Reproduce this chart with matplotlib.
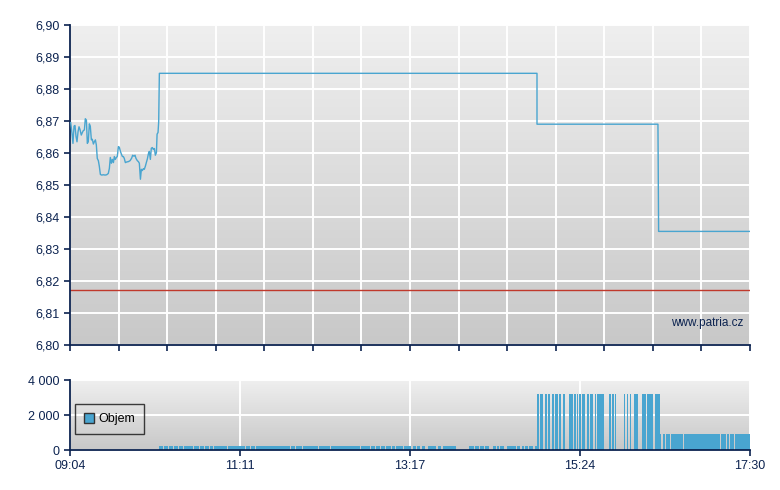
import numpy as np
import matplotlib.pyplot as plt
from matplotlib.colors import LinearSegmentedColormap
from matplotlib.patches import Patch
from matplotlib.ticker import FuncFormatter

plt.rcParams["font.family"] = ["Liberation Sans", "DejaVu Sans"]

# minutes after 09:04 and price
price_t = [0.5, 1.5, 2.2, 3.0, 3.7, 4.5, 5.2, 6.0, 6.7, 7.4, 8.4, 9.2, 9.9, 10.7,
           11.4, 12.2, 12.9, 13.6, 14.4, 15.1, 15.9, 16.6, 17.4, 18.1, 18.9, 19.6,
           20.3, 21.1, 21.8, 22.6, 23.6, 24.8, 26.1, 27.3, 28.5, 29.3, 30.0, 30.8,
           31.5, 32.3, 33.0, 33.7, 34.5, 35.2, 36.0, 36.7, 37.5, 38.2, 39.0, 39.7,
           40.4, 41.2, 42.2, 43.4, 44.7, 45.9, 46.6, 47.6, 48.4, 49.1, 50.1, 50.9,
           51.6, 52.4, 53.1, 53.8, 54.6, 55.3, 56.1, 56.8, 57.6, 58.3, 59.0, 59.8,
           60.5, 61.3, 62.0, 62.8, 63.5, 64.3, 64.8, 65.5, 66.0, 66.5,
           347.5, 347.5, 437.5, 438.0, 506.0]
price_v = [6.8695, 6.8661, 6.8630, 6.8684, 6.8686, 6.8651, 6.8635, 6.8667, 6.8682,
           6.8674, 6.8656, 6.8664, 6.8670, 6.8672, 6.8707, 6.8703, 6.8630, 6.8635,
           6.8691, 6.8684, 6.8641, 6.8643, 6.8628, 6.8635, 6.8641, 6.8625, 6.8583,
           6.8576, 6.8559, 6.8533, 6.8531, 6.8532, 6.8531, 6.8532, 6.8536, 6.8552,
           6.8586, 6.8568, 6.8580, 6.8570, 6.8589, 6.8580, 6.8586, 6.8589, 6.8620,
           6.8618, 6.8605, 6.8597, 6.8589, 6.8589, 6.8583, 6.8570, 6.8572, 6.8573,
           6.8576, 6.8584, 6.8593, 6.8590, 6.8593, 6.8583, 6.8576, 6.8573, 6.8568,
           6.8518, 6.8549, 6.8545, 6.8551, 6.8549, 6.8559, 6.8570, 6.8582, 6.8597,
           6.8605, 6.8580, 6.8615, 6.8617, 6.8611, 6.8614, 6.8593, 6.8601, 6.8659,
           6.8664, 6.8698, 6.8849,
           6.8849, 6.8690, 6.8690, 6.8355, 6.8355]
prev_close = 6.8173

# volume blocks: (start minute, end minute)
low_blocks = [(66.2, 69.2), (69.9, 72.9), (73.7, 76.6), (77.4, 80.4), (81.1, 84.1),
              (84.8, 86.7), (87.4, 91.2), (91.9, 96.0), (96.7, 99.7), (100.5, 103.4),
              (104.2, 106.4), (107.2, 109.8), (110.5, 113.5), (114.2, 116.8),
              (117.6, 130.2), (131.0, 133.9), (134.7, 137.7), (138.4, 160.4),
              (161.1, 163.7), (164.4, 167.4), (168.2, 169.3), (170.0, 172.6),
              (173.4, 176.0), (176.7, 184.5), (185.3, 193.5), (194.2, 213.2),
              (213.9, 215.8), (216.5, 219.9), (220.6, 223.2), (224.0, 226.9),
              (227.7, 230.7), (231.4, 234.4), (235.1, 238.9), (239.6, 241.8),
              (242.6, 247.8), (248.5, 250.4), (251.1, 254.1), (254.9, 257.5),
              (258.2, 260.8), (261.6, 264.2), (266.4, 269.0), (269.7, 272.7),
              (273.5, 276.4), (277.2, 280.2), (280.9, 283.9), (284.6, 287.2),
              (296.9, 300.6), (301.4, 304.3), (305.1, 308.1), (308.8, 311.8),
              (314.8, 317.0), (317.7, 319.2), (320.0, 322.9), (325.2, 331.9),
              (332.6, 335.2), (336.0, 337.8), (338.6, 340.8), (341.5, 344.5),
              (346.0, 347.5)]
high_blocks = [(347.5, 348.8), (349.7, 352.2), (353.2, 354.7), (355.7, 357.4),
               (358.4, 360.1), (361.1, 362.9), (363.9, 365.6), (366.6, 368.1),
               (371.3, 374.1), (375.3, 376.3), (377.0, 378.2), (379.0, 380.2),
               (381.2, 383.4), (384.5, 386.0), (386.9, 389.4), (390.4, 391.4),
               (391.9, 395.6), (396.1, 397.1), (401.1, 402.6), (403.5, 405.0),
               (405.5, 406.1), (412.2, 413.0), (414.7, 415.4), (416.5, 417.2),
               (418.0, 418.4), (419.5, 422.4), (425.6, 428.6), (429.1, 434.0),
               (435.3, 438.8)]
late_blocks = [(439.0, 440.1), (440.9, 442.7), (443.5, 444.7), (445.2, 446.5),
               (447.0, 455.9), (456.9, 483.7), (484.7, 488.5), (489.2, 490.4),
               (491.1, 494.3), (495.2, 506.0)]
low_vol = 230
high_vol = 3200
late_vol = 930

time_labels = ["09:04", "11:11", "13:17", "15:24", "17:30"]
day_len = 506

navy = "#0c2350"
blue = "#49a5d0"
grad = LinearSegmentedColormap.from_list("bg", ["#c8c8c8", "#efefef"])

fig = plt.figure(figsize=(7.8, 4.9), dpi=100)
ax = fig.add_axes([70 / 780, 145 / 490, 680 / 780, 320 / 490])
axv = fig.add_axes([70 / 780, 40 / 490, 680 / 780, 70 / 490])

for a in (ax, axv):
    a.imshow(np.linspace(0, 1, 256).reshape(-1, 1)[::-1], cmap=grad, aspect="auto",
             extent=[0, 1, 0, 1], transform=a.transAxes, zorder=0)
    a.set_axisbelow(True)
    a.grid(True, color="white", linewidth=1.4)
    for s in ("top", "right"):
        a.spines[s].set_visible(False)
    for s in ("left", "bottom"):
        a.spines[s].set_color(navy)
        a.spines[s].set_linewidth(1.3)
    a.tick_params(colors=navy, labelsize=9, length=4, width=1.2, direction="out")
    a.set_xlim(0, day_len)

# price panel
ax.axhline(prev_close, color="#c0392b", linewidth=1, zorder=2)
ax.plot(price_t, price_v, color=blue, linewidth=1.0, zorder=3)
ax.set_ylim(6.80, 6.90)
ax.set_yticks(np.arange(6.80, 6.9001, 0.01))
ax.yaxis.set_major_formatter(FuncFormatter(lambda v, p: f"{v:.2f}".replace(".", ",")))
ax.set_xticks(np.linspace(0, day_len, 15))
ax.set_xticklabels([])
ax.text(0.99, 0.068, "www.patria.cz", transform=ax.transAxes, ha="right", va="center",
        color=navy, fontsize=8.5, zorder=4)

# volume panel
for blocks, vol in ((low_blocks, low_vol), (high_blocks, high_vol), (late_blocks, late_vol)):
    starts = [b[0] for b in blocks]
    widths = [b[1] - b[0] for b in blocks]
    axv.bar(starts, [vol] * len(blocks), width=widths, align="edge",
            color=blue, linewidth=0, zorder=2)
axv.set_ylim(0, 4000)
axv.set_yticks([0, 2000, 4000])
axv.yaxis.set_major_formatter(FuncFormatter(lambda v, p: f"{int(v):,}".replace(",", " ")))
axv.set_xticks(np.linspace(0, day_len, 5))
axv.set_xticklabels(time_labels)
leg = axv.legend(handles=[Patch(facecolor=blue, edgecolor="#333333", label="Objem")],
                 loc="center left", bbox_to_anchor=(0.0074, 0.44), borderaxespad=0,
                 fontsize=9, frameon=True, fancybox=False, handlelength=0.8,
                 handleheight=0.8, handletextpad=0.4, borderpad=0.7)
leg.get_frame().set_edgecolor("#111111")
leg.get_frame().set_facecolor("none")
leg.get_frame().set_linewidth(1)

fig.savefig("out.png", dpi=100)
